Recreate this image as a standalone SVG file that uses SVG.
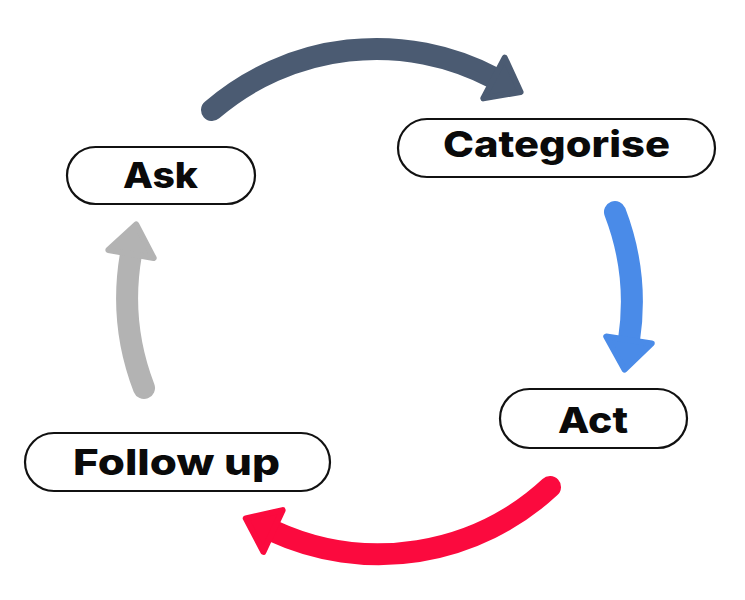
<svg xmlns="http://www.w3.org/2000/svg" width="745" height="600" viewBox="0 0 745 600">
  <style>
    .node rect { fill: #ffffff; stroke: #111111; stroke-width: 2.2; }
    .node text { font-family: Inter, "Open Sans", "Liberation Sans", sans-serif; font-weight: 800; font-size: 36px; fill: #0a0a0a; }
    .conn path.shaft { fill: none; stroke-width: 22; stroke-linecap: round; }
    .head { stroke-width: 6; stroke-linejoin: round; }
  </style>
  <defs>
    <marker id="hDark" markerUnits="userSpaceOnUse" markerWidth="60" markerHeight="60" refX="0" refY="0" orient="auto" overflow="visible">
      <path class="head" d="M0,-23 L30,0 L0,23 Z" fill="#4B5B72" stroke="#4B5B72"/>
    </marker>
    <marker id="hBlue" markerUnits="userSpaceOnUse" markerWidth="60" markerHeight="60" refX="0" refY="0" orient="auto" overflow="visible">
      <path class="head" d="M0,-23 L30,0 L0,23 Z" fill="#4A8BE8" stroke="#4A8BE8"/>
    </marker>
    <marker id="hRed" markerUnits="userSpaceOnUse" markerWidth="60" markerHeight="60" refX="0" refY="0" orient="auto" overflow="visible">
      <path class="head" d="M0,-23 L30,0 L0,23 Z" fill="#FB0A3E" stroke="#FB0A3E"/>
    </marker>
    <marker id="hGray" markerUnits="userSpaceOnUse" markerWidth="60" markerHeight="60" refX="0" refY="0" orient="auto" overflow="visible">
      <path class="head" d="M0,-23 L30,0 L0,23 Z" fill="#B3B3B3" stroke="#B3B3B3"/>
    </marker>
  </defs>
  <rect x="0" y="0" width="745" height="600" fill="#ffffff"/>
  <g id="connectors" class="conn">
    <path class="shaft" d="M212,110 A252,252 0 0 1 494,78" stroke="#4B5B72" marker-end="url(#hDark)"/>
    <path class="shaft" d="M615,212 A252,252 0 0 1 629,340" stroke="#4A8BE8" marker-end="url(#hBlue)"/>
    <path class="shaft" d="M550,487 A252,252 0 0 1 273,531" stroke="#FB0A3E" marker-end="url(#hRed)"/>
    <path class="shaft" d="M144,388 A252,252 0 0 1 131,254" stroke="#B3B3B3" marker-end="url(#hGray)"/>
  </g>
  <g id="node-ask" class="node">
    <rect x="67" y="147" width="188" height="57" rx="28.5"/>
    <text x="123" y="188" textLength="75" lengthAdjust="spacingAndGlyphs">Ask</text>
  </g>
  <g id="node-categorise" class="node">
    <rect x="398" y="119" width="317" height="58" rx="29"/>
    <text x="443" y="157" textLength="227" lengthAdjust="spacingAndGlyphs">Categorise</text>
  </g>
  <g id="node-act" class="node">
    <rect x="500" y="389" width="187" height="59" rx="29.5"/>
    <text x="558" y="433" textLength="70" lengthAdjust="spacingAndGlyphs">Act</text>
  </g>
  <g id="node-followup" class="node">
    <rect x="25" y="433" width="305" height="58" rx="29"/>
    <text x="73" y="475" textLength="207" lengthAdjust="spacingAndGlyphs">Follow up</text>
  </g>
</svg>
